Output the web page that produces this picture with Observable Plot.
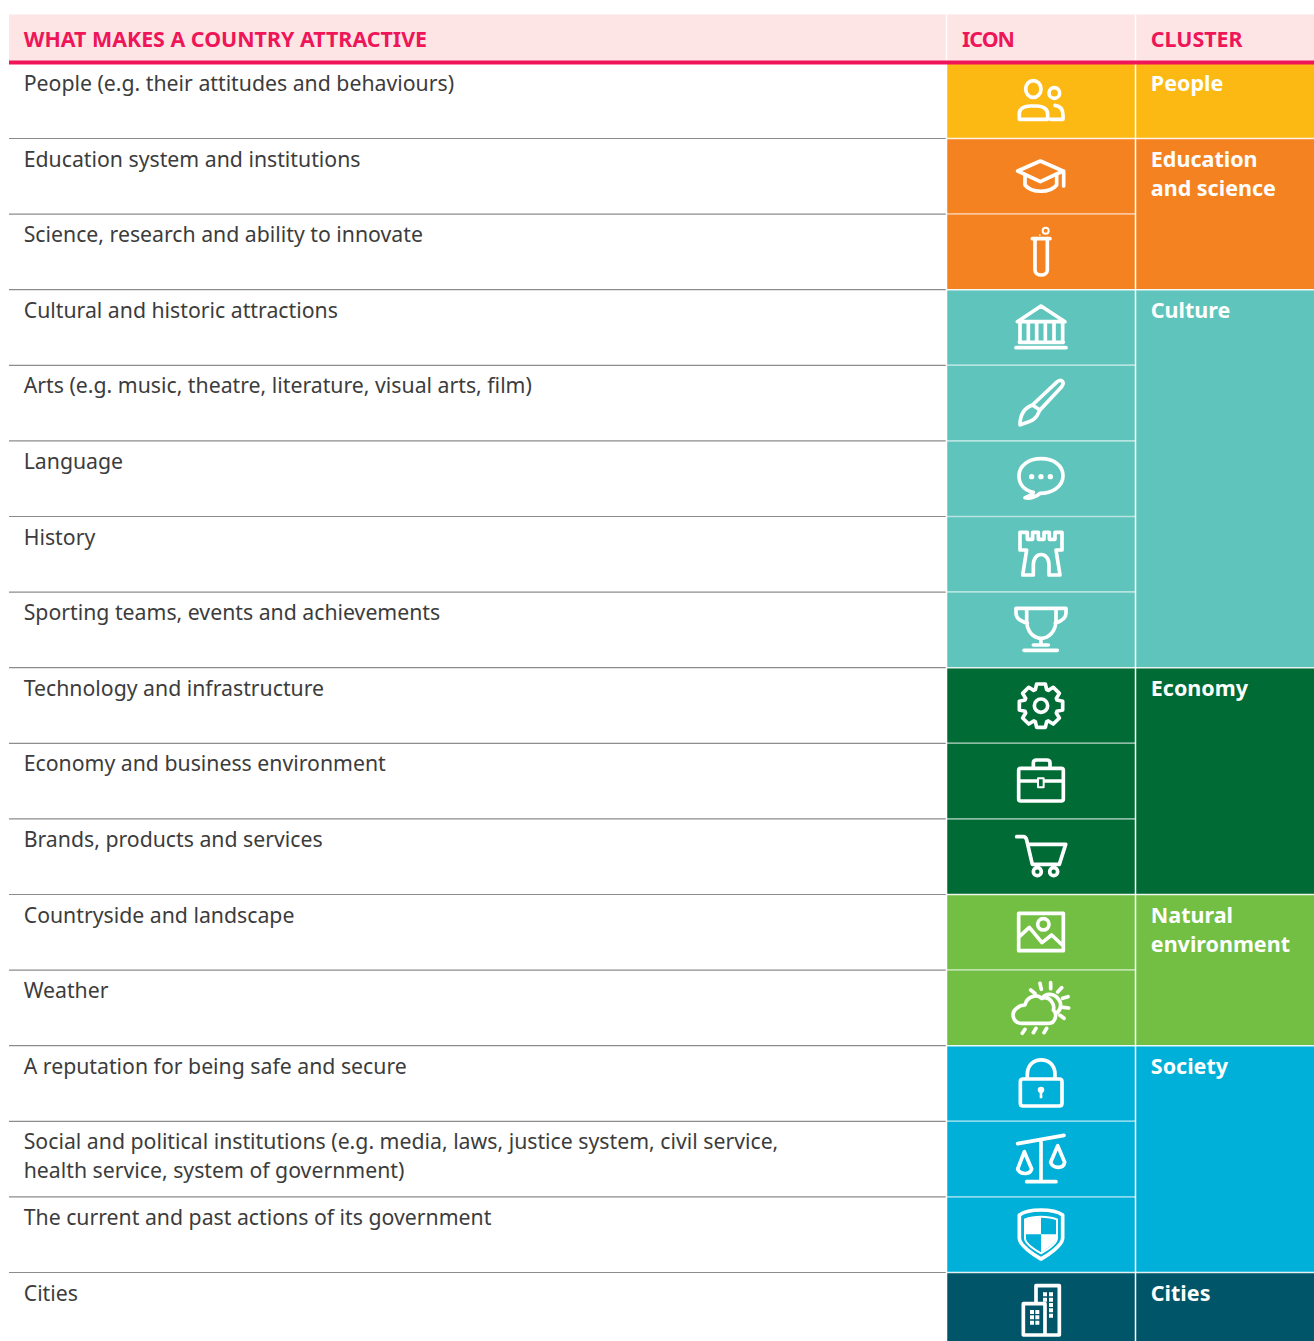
<!DOCTYPE html>
<html lang="en">
<head>
<meta charset="utf-8">
<title>What makes a country attractive</title>
<script src="https://cdn.jsdelivr.net/npm/d3@7"></script>
<script src="https://cdn.jsdelivr.net/npm/@observablehq/plot@0.6"></script>
<style>
  html, body { margin: 0; padding: 0; background: #fff; }
  svg { display: block; }
  .head text:nth-child(2) { letter-spacing: -1px; }
</style>
</head>
<body>
<div id="chart"></div>
<script>
const columnHeaders = ["WHAT MAKES A COUNTRY ATTRACTIVE", "ICON", "CLUSTER"];

const factors = [
  "People (e.g. their attitudes and behaviours)",
  "Education system and institutions",
  "Science, research and ability to innovate",
  "Cultural and historic attractions",
  "Arts (e.g. music, theatre, literature, visual arts, film)",
  "Language",
  "History",
  "Sporting teams, events and achievements",
  "Technology and infrastructure",
  "Economy and business environment",
  "Brands, products and services",
  "Countryside and landscape",
  "Weather",
  "A reputation for being safe and secure",
  "Social and political institutions (e.g. media, laws, justice system, civil service,\nhealth service, system of government)",
  "The current and past actions of its government",
  "Cities"
];

const iconNames = ["people","cap","tube","temple","brush","speech","castle","trophy",
  "gear","case","cart","picture","weather","lock","scales","shield","city"];

const clusterNames = ["People", "Education\nand science", "Culture", "Economy", "Natural\nenvironment", "Society", "Cities"];
const clusterColors = ["#fdb913", "#f58220", "#5ec4bc", "#006b35", "#72bf44", "#00b0d8", "#005568"];
const clusterSizes = [1, 2, 5, 3, 2, 3, 1];

// Icon outlines, in 1/3 px units around the origin o (the centre of the cell).
const iconShapes = {
  people: {o:[303,300.6], d:"M257,267a23,25 0 1,0 46,0a23,25 0 1,0 -46,0ZM238,358V340C238,325 255,318 270,318H292C310,318 323,328 323,342V358ZM327,279a16,16 0 1,0 32,0a16,16 0 1,0 -32,0ZM345,316C362,318 369,330 369,345V358H332"},
  cap: {o:[303,527.4], d:"M301,483L233,513L301,545L369,513ZM255,525V555C275,580 330,580 350,555V525M371,513V558"},
  tube: {o:[303,754.2], d:"M285,715V810C285,830 322,830 322,810V715M277,716H330", thin:"M308,692a9,9 0 1,0 18,0a9,9 0 1,0 -18,0Z", solid:"M297,705a2.5,2.5 0 1,0 5,0a2.5,2.5 0 1,0 -5,0Z"},
  temple: {o:[183,96], d:"M183,33L112,80H255ZM120,85V138M145,85V138M170,85V138M196,85V138M222,85V138M248,85V138M118,142H250M108,158H258"},
  brush: {o:[183,322.8], d:"M157,330L232,260C245,250 255,262 245,275L180,345ZM157,330C130,340 120,360 120,390C135,380 165,385 178,348"},
  speech: {o:[183,549.6], d:"M160,592C130,585 117,565 117,543C117,510 148,491 183,491C220,491 249,510 249,543C249,575 215,595 180,595C170,605 150,612 135,608C148,603 158,598 160,592Z",
    solid:"M147,545a8,8 0 1,0 16,0a8,8 0 1,0 -16,0ZM175,545a8,8 0 1,0 16,0a8,8 0 1,0 -16,0ZM203,545a8,8 0 1,0 16,0a8,8 0 1,0 -16,0Z"},
  castle: {o:[183,776.4], d:"M120,712V765H140L128,840H160V810C160,768 207,768 207,810V840H240L228,765H246V712H225V733H208V712H192V733H175V712H158V733H142V712Z"},
  trophy: {o:[183,1003.2], d:"M140,940H228V975C228,1010 205,1030 184,1030C160,1030 140,1010 140,975ZM140,940H108V955C108,970 125,980 142,985M228,940H258V955C258,970 240,980 226,985M183,1030V1048M160,1050H205M132,1066H232"},
  gear: {o:[183,105], d:"M166,59L170,42H196L200,59L204.9,61.1L219.8,51.8L238.2,70.2L228.9,85.1L231,90L248,94V120L231,124L228.9,128.9L238.2,143.8L219.8,162.2L204.9,152.9L200,155L196,172H170L166,155L161.1,152.9L146.2,162.2L127.8,143.8L137.1,128.9L135,124L118,120V94L135,90L137.1,85.1L127.8,70.2L146.2,51.8L161.1,61.1ZM163,107a20,20 0 1,0 40,0a20,20 0 1,0 -40,0Z"},
  case: {o:[183,331.8], d:"M122,295H244Q250,295 250,301V387Q250,393 244,393H122Q116,393 116,387V301Q116,295 122,295ZM160,293V278C160,272 165,270 170,270H200C205,270 210,272 210,278V293M116,333H172M194,333H250", thin:"M174,325H191V352H174Z"},
  cart: {o:[183,558.6], d:"M110,500H130C135,500 138,503 140,510L157,583H238L257,523H145M160,605a12,12 0 1,0 24,0a12,12 0 1,0 -24,0ZM209,605a12,12 0 1,0 24,0a12,12 0 1,0 -24,0Z"},
  picture: {o:[183,785.4], d:"M116,730H250V842H116ZM173,763a17,17 0 1,0 34,0a17,17 0 1,0 -34,0ZM118,800L148,772L186,818L215,795L250,828"},
  weather: {o:[183,1012.2], d:"M152,960L165,970M180,940L184,958M212,938V956M245,953L233,966M264,980L248,985M266,1014L250,1012M252,1045L240,1036M125,1060C100,1060 90,1030 110,1015C120,1005 130,1005 135,1005C140,980 170,970 185,985C210,975 225,1005 220,1020C232,1030 228,1060 205,1060ZM187,985C195,970 225,965 240,995C245,1010 240,1020 232,1028M135,1078L127,1090M168,1075L160,1088M200,1075L192,1088"},
  lock: {o:[183,114], d:"M129,102H238Q246,102 246,110V175Q246,183 238,183H129Q121,183 121,175V110Q121,102 129,102ZM142,102V88C142,30 225,30 225,88V102", solid:"M173,135a10,10 0 1,1 20,0a10,10 0 0 1 -6,9L187,160H179L179,144a10,10 0 0 1 -6,-9Z"},
  scales: {o:[183,340.8], d:"M113,296L252,271M183,285V410M140,410H228M133,320L113,372C120,390 150,390 155,372ZM233,302L212,352C220,372 250,372 254,352Z"},
  shield: {o:[183,567.6], d:"M183,495C155,495 135,498 118,510V580C118,600 160,630 183,642C206,630 248,600 248,580V510C231,498 211,495 183,495Z",
    thin:"M183,515C165,515 150,517 135,523V580C135,595 165,615 183,625C201,615 231,595 231,580V523C216,517 201,515 183,515Z",
    solid:"M137,524Q160,516 183,516V568H137ZM183,568H230V582C225,595 200,612 183,623Z"},
  city: {o:[183,794.4], d:"M168,772V722H238V870H130V776H195V870",
    solid:"M189,742h12v12h-12ZM207,742h12v12h-12ZM189,758h12v12h-12ZM207,758h12v12h-12ZM207,774h12v12h-12ZM207,790h12v12h-12ZM207,806h12v12h-12ZM150,795h12v12h-12ZM166,795h12v12h-12ZM150,811h12v12h-12ZM166,811h12v12h-12ZM150,827h12v12h-12ZM166,827h12v12h-12Z"}
};

// Layout of the table, in page pixels (x) and row units (y).
const tableLeft = 9, iconLeft = 946, clusterLeft = 1135, tableRight = 1314;
const textX = 23.2, iconTextX = 961.5, clusterTextX = 1150.3, iconX = 1041;
const headTop = -0.6138, ruleMid = -0.0053;

const rowIdx = factors.map((_, i) => i);
let start = 0;
const clusters = clusterNames.map((name, i) => {
  const c = {name, y1: start, y2: start + clusterSizes[i]};
  start = c.y2;
  return c;
});
const rowCluster = rowIdx.map(r => clusters.find(c => r >= c.y1 && r < c.y2));
const clusterBreaks = clusters.map(c => c.y1);
const innerBreaks = rowIdx.filter(r => !clusterBreaks.includes(r));

const iconMark = Plot.dot(rowIdx, {
  x: () => iconX,
  y: r => r + 0.5,
  render(index, scales, values) {
    const g = d3.create("svg:g");
    for (const i of index) {
      const s = iconShapes[iconNames[rowIdx[i]]];
      const t = g.append("g")
        .attr("transform", `translate(${values.x[i]},${values.y[i]}) scale(${1/3}) translate(${-s.o[0]},${-s.o[1]})`)
        .attr("stroke", "#fff").attr("stroke-linejoin", "round").attr("stroke-linecap", "round");
      t.append("path").attr("d", s.d).attr("fill", "none").attr("stroke-width", 11);
      if (s.thin) t.append("path").attr("d", s.thin).attr("fill", "none").attr("stroke-width", 6);
      if (s.solid) t.append("path").attr("d", s.solid).attr("fill", "#fff").attr("stroke", "none");
    }
    return g.node();
  }
});

const fontFamily = "'Noto Sans', sans-serif";

const chart = Plot.plot({
  width: 1314,
  height: 1341,
  margin: 0,
  style: {background: "#fff"},
  x: {domain: [0, 1314], range: [0, 1314], axis: null},
  y: {domain: [-62.4 / 75.6, (1341 - 62.4) / 75.6], range: [0, 1341], axis: null},
  color: {domain: clusterNames, range: clusterColors},
  marks: [
    // header band and its rule
    Plot.rect([0], {x1: tableLeft, x2: tableRight, y1: headTop - 0.02, y2: ruleMid, fill: "#fde5e6"}),
    // icon cells
    Plot.rect(rowIdx, {x1: iconLeft, x2: clusterLeft, y1: r => r, y2: r => r + 1, fill: r => rowCluster[r].name}),
    // cluster cells
    Plot.rect(clusters, {x1: clusterLeft, x2: tableRight, y1: "y1", y2: "y2", fill: "name"}),
    // row separators
    Plot.ruleY(rowIdx.slice(1), {y: r => r, x1: tableLeft, x2: iconLeft, stroke: "#8c8c8c", strokeWidth: 1.2}),
    Plot.ruleY(innerBreaks, {y: r => r, x1: iconLeft, x2: clusterLeft, stroke: "#fff", strokeOpacity: 0.55, strokeWidth: 1.5}),
    Plot.ruleY(clusterBreaks.slice(1), {y: r => r, x1: iconLeft, x2: tableRight, stroke: "#fff", strokeOpacity: 0.9, strokeWidth: 1.5}),
    // column separators
    Plot.ruleX([iconLeft, clusterLeft], {y1: headTop - 0.02, y2: 17, stroke: "#fff", strokeWidth: 1.5}),
    // pink header rule
    Plot.ruleY([ruleMid], {x1: tableLeft, x2: tableRight, stroke: "#f0145a", strokeWidth: 4}),
    // header text
    Plot.text(columnHeaders, {
      x: (d, i) => [textX, iconTextX, clusterTextX][i],
      y: -0.0053 - 0.405,
      text: d => d,
      textAnchor: "start",
      lineAnchor: "top",
      fill: "#ee1558",
      fontFamily,
      fontSize: 21.4,
      fontWeight: 700,
      className: "head"
    }),
    // factor text
    Plot.text(rowIdx, {
      x: textX,
      y: r => r + 0.1,
      text: r => factors[r],
      textAnchor: "start",
      lineAnchor: "top",
      lineHeight: 29 / 21.25,
      fill: "#3c3c3c",
      fontFamily,
      fontSize: 21.25,
      className: "factor"
    }),
    // cluster text
    Plot.text(clusters, {
      x: clusterTextX,
      y: d => d.y1 + 0.1,
      text: "name",
      textAnchor: "start",
      lineAnchor: "top",
      lineHeight: 29 / 21.5,
      fill: "#fff",
      fontFamily,
      fontSize: 21.5,
      fontWeight: 700,
      className: "cluster"
    }),
    iconMark
  ]
});
document.getElementById("chart").append(chart);
</script>
</body>
</html>
